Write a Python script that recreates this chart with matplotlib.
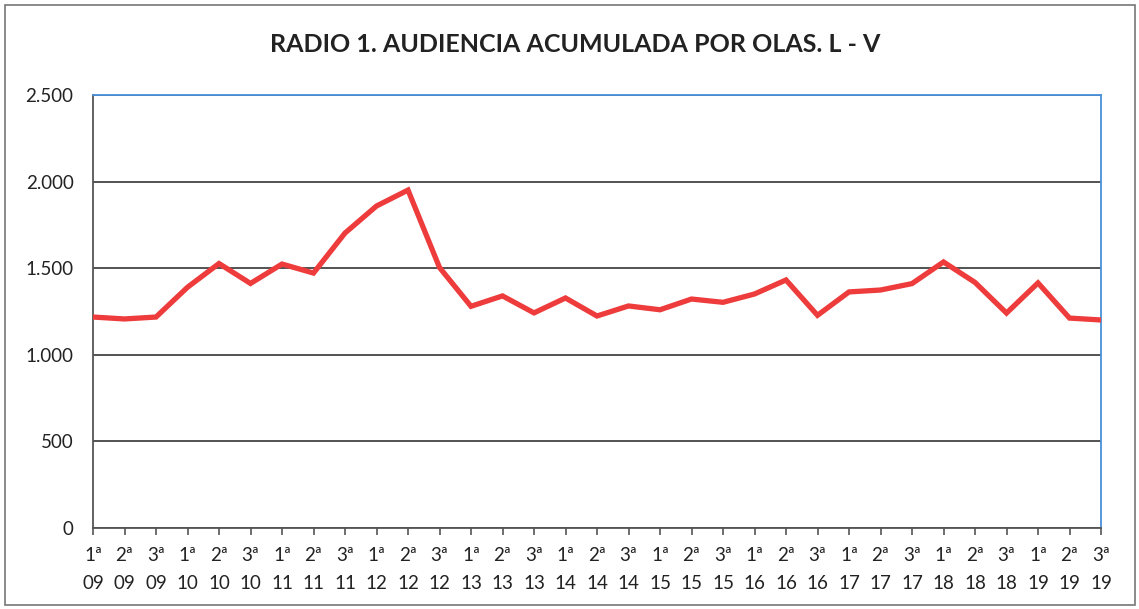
import matplotlib.pyplot as plt
from matplotlib.ticker import FuncFormatter
from matplotlib.patches import Rectangle

# Audiencia acumulada (miles) por ola, lunes a viernes
olas = ["1ª", "2ª", "3ª"] * 11
anios = [f"{a:02d}" for a in range(9, 20) for _ in range(3)]
audiencia = [1218, 1207, 1218, 1390, 1527, 1412, 1524, 1472, 1703, 1859, 1951,
             1504, 1280, 1340, 1242, 1328, 1224, 1282, 1260, 1322, 1303, 1351,
             1432, 1228, 1363, 1374, 1411, 1536, 1418, 1241, 1415, 1212, 1201]

plt.rcParams['font.family'] = ['Lato', 'DejaVu Sans']

fig = plt.figure(figsize=(11.39, 6.09), dpi=100)
ax = fig.add_axes([93 / 1139, 1 - 528 / 609, 1008 / 1139, 433 / 609])

x = list(range(len(audiencia)))
ax.plot(x, audiencia, color='#EE3B3B', linewidth=3.8, solid_joinstyle='miter', zorder=3)

ax.set_xlim(0, len(audiencia) - 1)
ax.set_ylim(0, 2500)
ax.set_yticks(range(0, 2501, 500))
ax.yaxis.set_major_formatter(FuncFormatter(lambda v, p: f"{int(v):,}".replace(",", ".")))
ax.set_xticks(x)
ax.set_xticklabels([f"{o}\n{a}" for o, a in zip(olas, anios)], linespacing=1.75)

ax.grid(axis='y', color='#444444', linewidth=1.3)
ax.tick_params(axis='y', length=0, pad=14, labelsize=13.5, colors='#222222')
ax.tick_params(axis='x', length=5, width=1.2, color='#555555', pad=9, labelsize=13.5,
               labelcolor='#222222')

for s in ['left', 'bottom']:
    ax.spines[s].set_color('#555555')
    ax.spines[s].set_linewidth(1.3)
for s in ['top', 'right']:
    ax.spines[s].set_color('#4A90D9')
    ax.spines[s].set_linewidth(1.3)

fig.text(575 / 1139, 1 - 45 / 609, "RADIO 1. AUDIENCIA ACUMULADA POR OLAS. L - V",
         ha='center', va='center', fontsize=18, fontweight='bold', color='#222222')

fig.patches.append(Rectangle((5 / 1139, 4 / 609), 1130 / 1139, 600 / 609,
                             transform=fig.transFigure, fill=False,
                             edgecolor='#777777', linewidth=1.2))

fig.savefig("out.png", dpi=100)
